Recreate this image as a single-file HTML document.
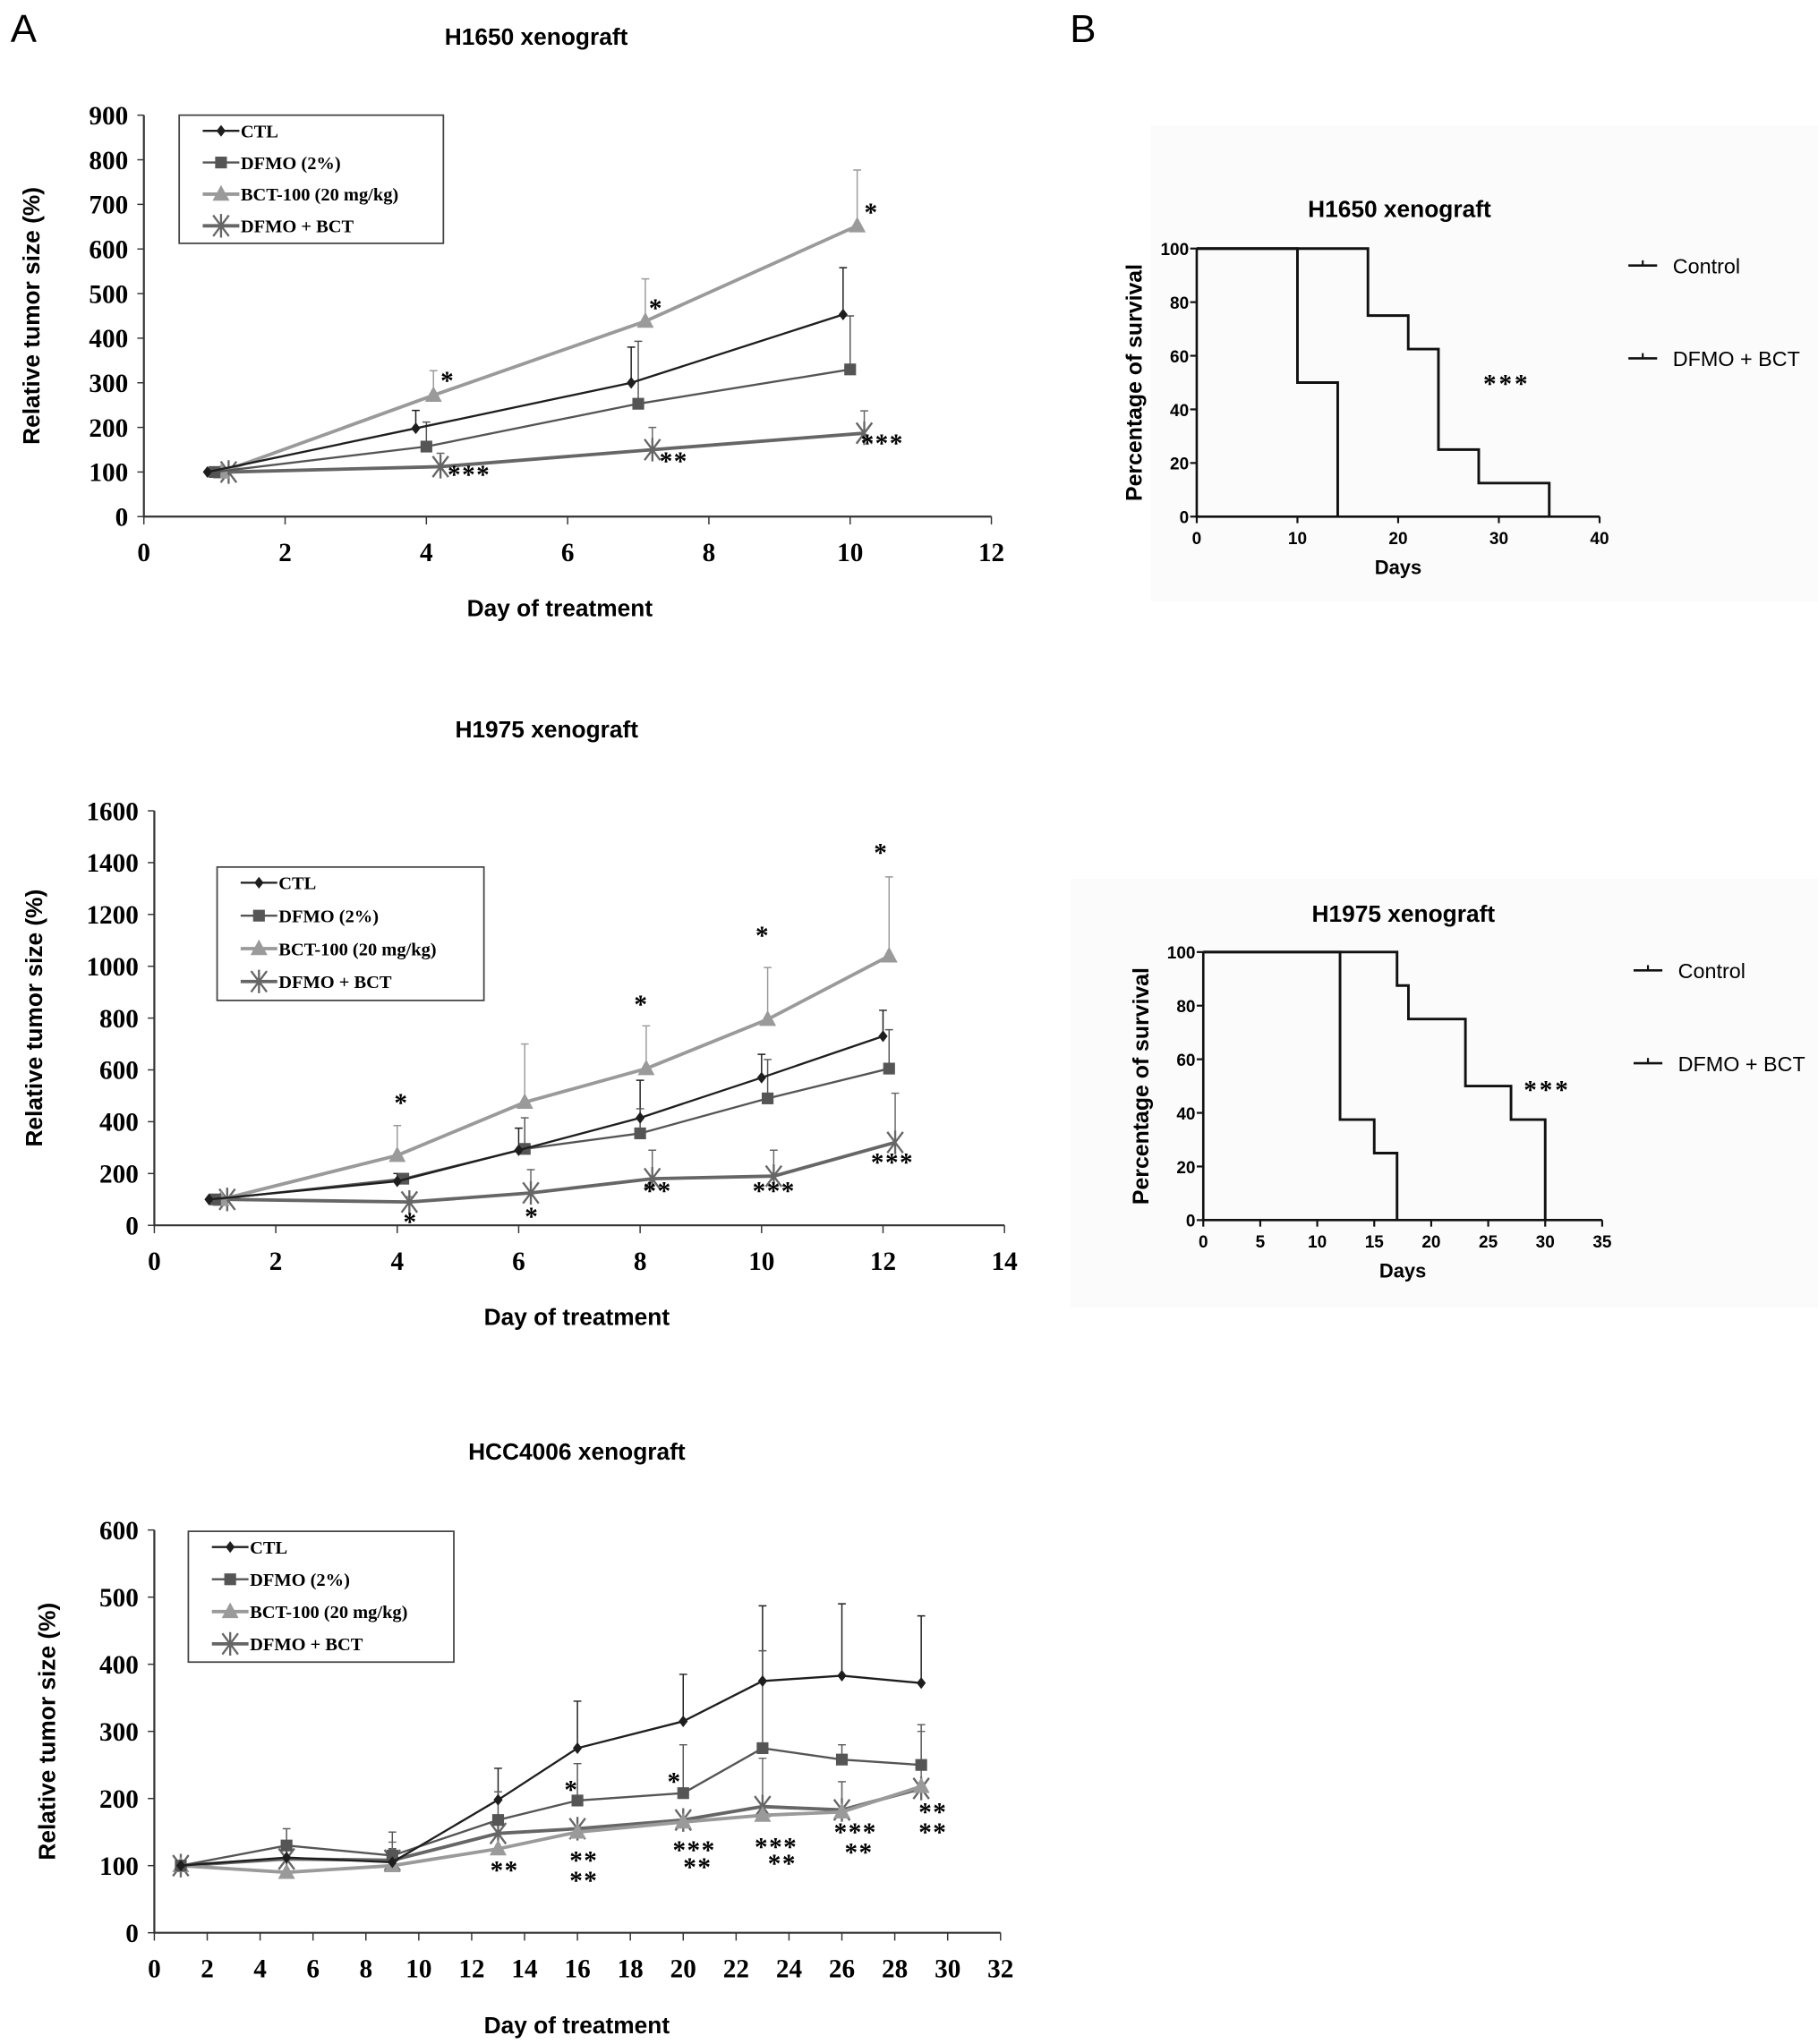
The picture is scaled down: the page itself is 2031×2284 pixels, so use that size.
<!DOCTYPE html>
<html><head><meta charset="utf-8"><style>
html,body{margin:0;padding:0;background:#fff}
svg{display:block}
.ser{font-family:"Liberation Serif",serif;font-weight:bold}
.san{font-family:"Liberation Sans",sans-serif;font-weight:bold}
</style></head><body>
<svg id="fig" width="2031" height="2284" viewBox="0 0 1390 1563" xmlns="http://www.w3.org/2000/svg">
<text x="8" y="32" font-family="Liberation Sans,sans-serif" font-size="30">A</text>
<text x="818" y="32" font-family="Liberation Sans,sans-serif" font-size="30">B</text>
<rect x="880" y="96" width="510" height="364" fill="#fbfbfb"/>
<rect x="818" y="672" width="572" height="328" fill="#fbfbfb"/>
</svg>
<script>
// ---------- Chart A1 data (H1650) ----------
const a1Days = [[0.9,3.85,6.9,9.9],[1,4,7,10],[1.1,4.1,7.1,10.1],[1.2,4.2,7.2,10.2]];
const a1Vals = [[100,198,300,453],[100,157,253,330],[100,272,438,652],[100,112,150,187]];
const a1Err = [[0,40,80,105],[0,55,140,120],[0,55,95,125],[0,30,50,50]];
const a1YTicks = [0,100,200,300,400,500,600,700,800,900];
const a1XTicks = [0,2,4,6,8,10,12];
// ---------- Chart A2 data (H1975) ----------
const a2Days = [[0.9,4,6,8,10,12],[1,4.1,6.1,8,10.1,12.1],[1.1,4,6.1,8.1,10.1,12.1],[1.2,4.2,6.2,8.2,10.2,12.2]];
const a2Vals = [[100,170,290,415,570,730],[100,180,295,355,490,605],[100,270,475,605,795,1040],[100,90,125,180,190,320]];
const a2Err = [[0,30,85,145,90,100],[0,20,120,95,150,150],[0,115,225,165,200,305],[0,20,90,110,100,190]];
const a2YTicks = [0,200,400,600,800,1000,1200,1400,1600];
const a2XTicks = [0,2,4,6,8,10,12,14];
// ---------- Chart A3 data (HCC4006) ----------
const a3Days = [1,5,9,13,16,20,23,26,29];
const a3Vals = [[100,112,105,198,275,315,375,383,372],[100,130,115,168,197,208,275,258,250],[100,90,100,125,150,165,175,180,218],[100,110,108,148,155,168,188,183,215]];
const a3Err = [[0,0,20,47,70,70,112,107,100],[0,25,35,42,55,72,145,22,60],[0,0,0,0,0,0,0,45,0],[0,0,27,0,0,0,72,42,85]];
const a3YTicks = [0,100,200,300,400,500,600];
const a3XTicks = [0,2,4,6,8,10,12,14,16,18,20,22,24,26,28,30,32];
// ---------- Survival data ----------
const b1Ctl = [[0,100],[10,50],[14,0]];
const b1Combo = [[0,100],[17,75],[21,62.5],[24,25],[28,12.5],[35,0]];
const b1XTicks = [0,10,20,30,40];
const b2Ctl = [[0,100],[12,37.5],[15,25],[17,0]];
const b2Combo = [[0,100],[17,87.5],[18,75],[23,50],[27,37.5],[30,0]];
const b2XTicks = [0,5,10,15,20,25,30,35];
const bYTicks = [0,20,40,60,80,100];
const seriesNames = ["CTL","DFMO (2%)","BCT-100 (20 mg/kg)","DFMO + BCT"];

const NS="http://www.w3.org/2000/svg";
const fig=document.getElementById('fig');
function el(tag,attrs,parent,txt){const e=document.createElementNS(NS,tag);for(const k in attrs)e.setAttribute(k,attrs[k]);if(txt!==undefined)e.textContent=txt;(parent||fig).appendChild(e);return e;}
const colors=["#1e1e1e","#555","#9a9a9a","#666"];
const widths=[1.6,1.6,2.6,2.6];

function marker(g,i,x,y){
  let m;
  if(i===0){m=el('polygon',{points:`${x},${y-4.5} ${x+3.5},${y} ${x},${y+4.5} ${x-3.5},${y}`,fill:colors[0]},g);}
  else if(i===1){m=el('rect',{x:x-4.5,y:y-4.5,width:9,height:9,fill:colors[1]},g);}
  else if(i===2){m=el('polygon',{points:`${x},${y-7} ${x+6.5},${y+5} ${x-6.5},${y+5}`,fill:colors[2]},g);}
  else {m=el('path',{d:`M${x-6},${y-8}L${x+6},${y+8}M${x+6},${y-8}L${x-6},${y+8}M${x},${y-9}L${x},${y+9}`,stroke:colors[3],'stroke-width':1.6,fill:'none'},g);}
  
  
}

function lineChart(o){
  const g=el('g',{});
  
  
  const X=v=>o.x0+(v-o.xMin)/(o.xMax-o.xMin)*(o.x1-o.x0);
  const Y=v=>o.y0-(v-o.yMin)/(o.yMax-o.yMin)*(o.y0-o.y1);
  let t=el('text',{x:o.titleX,y:o.titleY,'text-anchor':'middle','font-size':18,class:'san'},g,o.title);
  
  const ax=el('path',{d:`M${o.x0},${o.y1}L${o.x0},${o.y0}L${o.x1},${o.y0}`,stroke:'#333','stroke-width':1.5,fill:'none'},g);
  
  o.yTicks.forEach(v=>{
    el('line',{x1:o.x0-5,x2:o.x0,y1:Y(v),y2:Y(v),stroke:'#333','stroke-width':1},g);
    const tt=el('text',{x:o.x0-12,y:Y(v)+7,'text-anchor':'end','font-size':20,class:'ser'},g,v);
    
  });
  o.xTicks.forEach(v=>{
    el('line',{x1:X(v),x2:X(v),y1:o.y0,y2:o.y0+6,stroke:'#333','stroke-width':1},g);
    const tt=el('text',{x:X(v),y:o.y0+34,'text-anchor':'middle','font-size':20,class:'ser'},g,v);
    
  });
  const yt=el('text',{transform:`translate(${o.yTitleX},${(o.y0+o.y1)/2}) rotate(-90)`,'text-anchor':'middle','font-size':18,class:'san'},g,'Relative tumor size (%)');
  
  const xt=el('text',{x:o.xTitleX,y:o.xTitleY,'text-anchor':'middle','font-size':18,class:'san'},g,'Day of treatment');
  
  const order=[3,2,1,0];
  for(let i=0;i<4;i++){
    const days=o.days[i];
    o.vals[i].forEach((v,j)=>{
      const e=o.err[i][j]; if(!e) return;
      const eb=el('path',{d:`M${X(days[j])},${Y(v)}L${X(days[j])},${Y(v+e)}M${X(days[j])-3},${Y(v+e)}L${X(days[j])+3},${Y(v+e)}`,stroke:colors[i],'stroke-width':1,fill:'none'},g);
      
    });
  }
  order.forEach(i=>{
    const days=o.days[i];
    const pts=o.vals[i].map((v,j)=>`${X(days[j])},${Y(v)}`).join(' ');
    const pl=el('polyline',{points:pts,fill:'none',stroke:colors[i],'stroke-width':widths[i]},g);
    
    o.vals[i].forEach((v,j)=>marker(g,i,X(days[j]),Y(v)));
  });
  o.stars.forEach(s=>{
    const st=el('text',{x:X(s[0]),y:Y(s[1]),'font-size':20,class:'ser','letter-spacing':'1'},g,s[2]);
    
  });
  const L=o.leg;
  const lb=el('rect',{x:L.x,y:L.y,width:L.w,height:L.h,fill:'#fff',stroke:'#444','stroke-width':1.2},g);
  
  seriesNames.forEach((n,i)=>{
    const yy=L.y+12+i*L.h/4.05;
    el('line',{x1:L.x+18,x2:L.x+46,y1:yy,y2:yy,stroke:colors[i],'stroke-width':widths[i]},g);
    marker(g,i,L.x+32,yy);
    const lt=el('text',{x:L.x+47,y:yy+5,'font-size':14,class:'ser'},g,n);
    
  });
}

lineChart({name:'chart-h1650-tumor',title:'H1650 xenograft',titleX:410,titleY:34,x0:110,x1:758,y0:395,y1:88,xMin:0,xMax:12,yMin:0,yMax:900,
  yTicks:a1YTicks,xTicks:a1XTicks,yTitleX:30,xTitleX:428,xTitleY:471,days:a1Days,vals:a1Vals,err:a1Err,
  leg:{x:137,y:88,w:202,h:98},
  stars:[[4.2,285,'*'],[7.15,448,'*'],[10.2,663,'*'],[4.3,75,'***'],[7.3,105,'**'],[10.15,145,'***']]});
lineChart({name:'chart-h1975-tumor',title:'H1975 xenograft',titleX:418,titleY:564,x0:118,x1:768,y0:937,y1:620,xMin:0,xMax:14,yMin:0,yMax:1600,
  yTicks:a2YTicks,xTicks:a2XTicks,yTitleX:32,xTitleX:441,xTitleY:1013,days:a2Days,vals:a2Vals,err:a2Err,
  leg:{x:166,y:663,w:204,h:102},
  stars:[[3.95,440,'*'],[7.9,820,'*'],[9.9,1085,'*'],[11.85,1405,'*'],[4.1,-20,'*'],[6.1,0,'*'],[8.05,100,'**'],[9.85,100,'***'],[11.8,210,'***']]});
lineChart({name:'chart-hcc4006-tumor',title:'HCC4006 xenograft',titleX:441,titleY:1116,x0:118,x1:765,y0:1478,y1:1170,xMin:0,xMax:32,yMin:0,yMax:600,
  yTicks:a3YTicks,xTicks:a3XTicks,yTitleX:42,xTitleX:441,xTitleY:1555,days:[a3Days,a3Days,a3Days,a3Days],vals:a3Vals,err:a3Err,
  leg:{x:144,y:1171,w:203,h:100},
  stars:[[15.5,200,'*'],[19.4,212,'*'],[12.7,80,'**'],[15.7,95,'**'],[15.7,65,'**'],[19.6,110,'***'],[20,85,'**'],[22.7,115,'***'],[23.2,90,'**'],[25.7,137,'***'],[26.1,107,'**'],[28.9,167,'**'],[28.9,137,'**']]});

function survival(o){
  const g=el('g',{});
  
  
  const X=v=>o.x0+v/o.xMax*(o.x1-o.x0);
  const Y=v=>o.y0-v/100*(o.y0-o.y1);
  const t=el('text',{x:o.titleX,y:o.titleY,'text-anchor':'middle','font-size':18,class:'san'},g,o.title);
  
  const ax=el('path',{d:`M${o.x0},${o.y1}L${o.x0},${o.y0}L${o.x1},${o.y0}`,stroke:'#111','stroke-width':1.8,fill:'none'},g);
  
  bYTicks.forEach(v=>{
    el('line',{x1:o.x0-5,x2:o.x0,y1:Y(v),y2:Y(v),stroke:'#111','stroke-width':1.5},g);
    const tt=el('text',{x:o.x0-6,y:Y(v)+5,'text-anchor':'end','font-size':13,class:'san'},g,v);
    
  });
  o.xTicks.forEach(v=>{
    el('line',{x1:X(v),x2:X(v),y1:o.y0,y2:o.y0+5,stroke:'#111','stroke-width':1.5},g);
    const tt=el('text',{x:X(v),y:o.y0+21,'text-anchor':'middle','font-size':13,class:'san'},g,v);
    
  });
  const yt=el('text',{transform:`translate(${o.x0-42},${(o.y0+o.y1)/2}) rotate(-90)`,'text-anchor':'middle','font-size':17,class:'san'},g,'Percentage of survival');
  
  const xt=el('text',{x:(o.x0+o.x1)/2,y:o.y0+44,'text-anchor':'middle','font-size':15,class:'san'},g,'Days');
  
  [o.ctl,o.combo].forEach((s,k)=>{
    let d=`M${X(s[0][0])},${Y(s[0][1])}`;
    for(let i=1;i<s.length;i++){d+=`L${X(s[i][0])},${Y(s[i-1][1])}L${X(s[i][0])},${Y(s[i][1])}`;}
    const p=el('path',{d:d,fill:'none',stroke:'#111','stroke-width':2},g);
    
  });
  ['Control','DFMO + BCT'].forEach((n,i)=>{
    const yy=o.legY[i];
    el('line',{x1:o.legX,x2:o.legX+22,y1:yy,y2:yy,stroke:'#111','stroke-width':1.8},g);
    el('line',{x1:o.legX+11,x2:o.legX+11,y1:yy-4,y2:yy,stroke:'#111','stroke-width':1.5},g);
    const lt=el('text',{x:o.legX+34,y:yy+6,'font-size':16,'font-family':'Liberation Sans,sans-serif'},g,n);
    
  });
  const st=el('text',{x:o.starX,y:o.starY,'font-size':20,class:'ser','letter-spacing':'2'},g,'***');
  
}
survival({name:'survival-h1650',title:'H1650 xenograft',titleX:1070,titleY:166,x0:915,x1:1223,y0:395,y1:190,xMax:40,xTicks:b1XTicks,ctl:b1Ctl,combo:b1Combo,legX:1245,legY:[203,274],starX:1134,starY:300});
survival({name:'survival-h1975',title:'H1975 xenograft',titleX:1073,titleY:705,x0:920,x1:1225,y0:933,y1:728,xMax:35,xTicks:b2XTicks,ctl:b2Ctl,combo:b2Combo,legX:1249,legY:[742,813],starX:1165,starY:840});
</script>
</body></html>
